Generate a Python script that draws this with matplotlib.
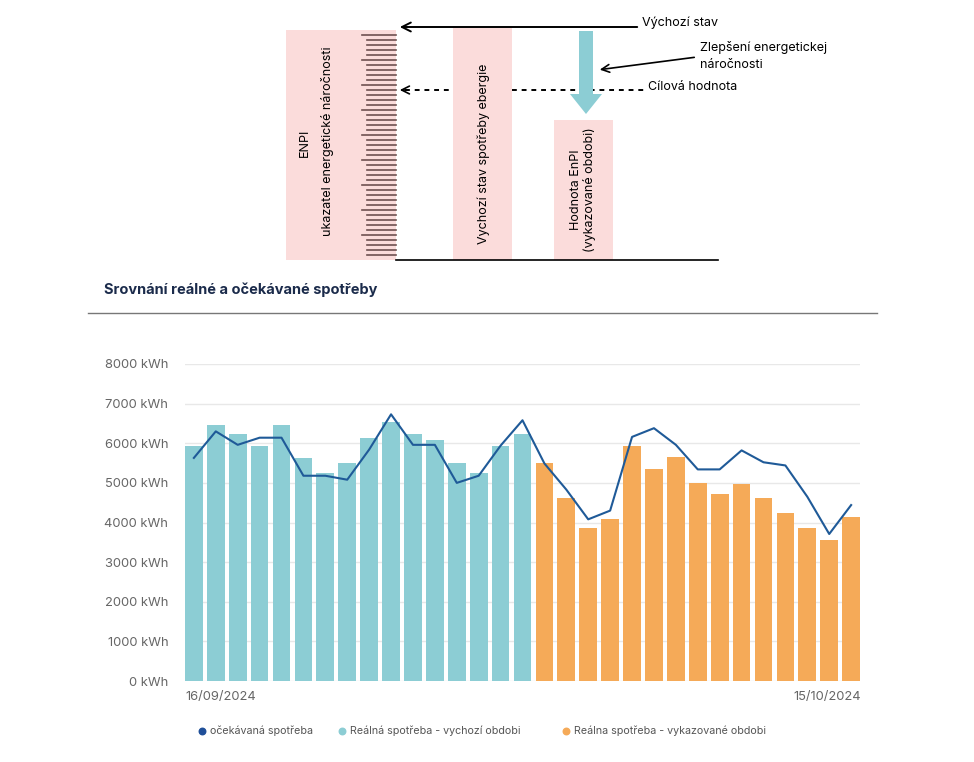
import numpy as np
import matplotlib
matplotlib.use("Agg")
from matplotlib import pyplot as plt
from matplotlib.patches import Rectangle, Polygon

# daily consumption, kWh
real_base = [5940, 6450, 6240, 5940, 6450, 5640, 5250, 5490, 6140, 6530,
             6240, 6070, 5490, 5250, 5940, 6240]
real_report = [5490, 4630, 3870, 4080, 5920, 5340, 5660, 5000, 4710, 4980,
               4630, 4230, 3870, 3570, 4150]
expected = [5630, 6300, 5960, 6140, 6140, 5180, 5180, 5080, 5840, 6730,
            5960, 5960, 5000, 5180, 5940, 6580, 5490, 4830, 4080, 4300,
            6160, 6380, 5960, 5340, 5340, 5820, 5520, 5440, 4650, 3710, 4440]
y_ticks = [0, 1000, 2000, 3000, 4000, 5000, 6000, 7000, 8000]
first_date = "16/09/2024"
last_date = "15/10/2024"
legend_labels = ["očekávaná spotřeba", "Reálná spotřeba - vychozí obdobi",
                 "Reálna spotřeba - vykazované obdobi"]

TEAL = "#8ccdd4"
ORANGE = "#f5aa58"
LINE = "#1f5a98"
PINK = "#fbdcdb"
GREY = "#666666"

plt.rcParams['font.family'] = ['Inter', 'DejaVu Sans']

W, H = 974, 762
fig = plt.figure(figsize=(W / 100, H / 100), dpi=100)

# overlay axes in pixel coordinates for the diagram, title and legend
ov = fig.add_axes([0, 0, 1, 1])
ov.set_xlim(0, W)
ov.set_ylim(H, 0)
ov.axis("off")

# ---- top diagram ----
ov.add_patch(Rectangle((286, 30), 110, 230, color=PINK, lw=0, zorder=1))
ov.add_patch(Rectangle((453, 28), 59, 232, color=PINK, lw=0, zorder=3))
ov.add_patch(Rectangle((554, 120), 59, 140, color=PINK, lw=0, zorder=3))

for i, yy in enumerate(np.arange(35, 258, 5)):
    x0 = 362 if i % 5 == 0 else 367
    ov.plot([x0, 396], [yy, yy], color="#6e5050", lw=1.2, zorder=2)
ov.plot([396, 718], [260, 260], color="black", lw=1.2, zorder=4)

ov.text(305, 143, "ENPI", rotation=90, ha="center", va="center", fontsize=9)
ov.text(327, 141, "ukazatel energetické náročnosti", rotation=90,
        ha="center", va="center", fontsize=9)
ov.text(484, 154, "Vychozí stav spotřeby ebergie", rotation=90,
        ha="center", va="center", fontsize=9, zorder=5)
ov.text(583, 190, "Hodnota EnPI\n(vykazované obdobi)", rotation=90,
        ha="center", va="center", fontsize=9, linespacing=1.1, zorder=5)

# baseline arrow
ov.annotate("", xy=(397, 27), xytext=(640, 27),
            arrowprops=dict(arrowstyle="->", lw=1.4, color="black",
                            mutation_scale=16))
ov.text(642, 23, "Výchozí stav", ha="left", va="center", fontsize=9)

# target line (dashed), hidden behind the middle column and the arrow
ov.plot([405, 645], [90, 90], color="black", lw=1.4, ls=(0, (2.5, 2.5)),
        zorder=2)
ov.annotate("", xy=(397, 90), xytext=(410, 90),
            arrowprops=dict(arrowstyle="->", lw=1.2, color="black",
                            mutation_scale=14))
ov.text(648, 87, "Cílová hodnota", ha="left", va="center", fontsize=9)

# improvement arrow
ov.add_patch(Polygon([(579, 31), (593, 31), (593, 94), (602, 94), (586, 114),
                      (570, 94), (579, 94)], closed=True, color=TEAL, lw=0,
                     zorder=4))
ov.annotate("", xy=(597, 70), xytext=(697, 57), zorder=6,
            arrowprops=dict(arrowstyle="->", lw=1.2, color="black",
                            mutation_scale=14))
ov.text(700, 56, "Zlepšení energetickej\nnáročnosti", ha="left", va="center",
        fontsize=9, linespacing=1.45)

# ---- title and separator ----
ov.text(104, 290, "Srovnání reálné a očekávané spotřeby", ha="left",
        va="center", fontsize=10.5, fontweight="bold", color="#1b2b4b")
ov.plot([88, 877], [313, 313], color="#777777", lw=1)

# ---- chart ----
ax = fig.add_axes([185 / W, (H - 681) / H, 675 / W, 317 / H])
n_base = len(real_base)
x_base = np.arange(n_base)
x_rep = np.arange(n_base, n_base + len(real_report))
x_all = np.arange(len(expected))

ax.bar(x_base, real_base, width=0.81, color=TEAL, zorder=2)
ax.bar(x_rep, real_report, width=0.81, color=ORANGE, zorder=2)
ax.plot(x_all, expected, color=LINE, lw=1.5, zorder=3)

ax.set_xlim(-0.405, len(expected) - 0.595)
ax.set_ylim(0, 8000)
ax.set_yticks(y_ticks)
ax.set_yticklabels([f"{v} kWh" for v in y_ticks], color=GREY, fontsize=9.3)
ax.tick_params(axis="y", length=0, pad=12)
ax.set_xticks([])
ax.grid(axis="y", color="#e8e8e8", lw=1)
ax.set_axisbelow(True)
for s in ax.spines.values():
    s.set_visible(False)

ov.text(185, 697, first_date, ha="left", va="center", fontsize=9.3, color=GREY)
ov.text(861, 697, last_date, ha="right", va="center", fontsize=9.3, color=GREY)

# ---- legend ----
leg_x = [202, 342, 566]
leg_c = ["#1f4f99", TEAL, ORANGE]
for lx, lc, lt in zip(leg_x, leg_c, legend_labels):
    ov.scatter([lx], [731], s=22, color=lc, zorder=5)
    ov.text(lx + 8, 731, lt, ha="left", va="center", fontsize=7.7,
            color="#555555")

fig.savefig("out.png", dpi=100)
